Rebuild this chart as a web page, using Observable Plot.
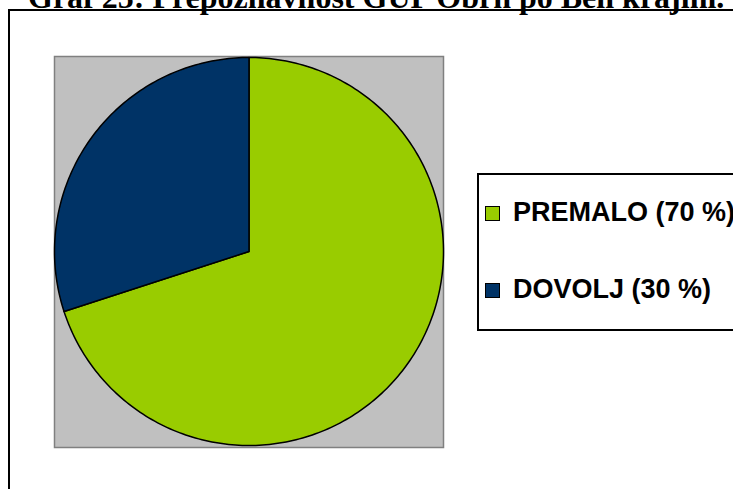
<!DOCTYPE html>
<html>
<head>
<meta charset="utf-8">
<script src="https://cdn.jsdelivr.net/npm/d3@7"></script>
<script src="https://cdn.jsdelivr.net/npm/@observablehq/plot@0.6"></script>
<style>
  html, body { margin: 0; padding: 0; background: #ffffff; }
  #page { position: relative; width: 733px; height: 489px; overflow: hidden; background: #ffffff; }
  #frame { position: absolute; left: 8px; top: 9px; width: 800px; height: 600px; border: 2px solid #000; box-sizing: border-box; }
  #title { position: absolute; left: 28px; top: -19px; white-space: nowrap; font-family: "Liberation Serif", "Times New Roman", serif; font-weight: bold; font-size: 32px; line-height: 32px; color: #000; }
  #chart { position: absolute; left: 0; top: 0; }
  #legend { position: absolute; left: 477px; top: 173px; width: 400px; height: 158px; border: 2px solid #000; box-sizing: border-box; }
  .item { position: absolute; white-space: nowrap; font-family: "Liberation Sans", Arial, sans-serif; font-weight: bold; font-size: 27px; line-height: 27px; color: #000; }
  .sw { position: absolute; width: 15px; height: 15px; border: 1px solid #000; box-sizing: border-box; }
</style>
</head>
<body>
<div id="page">
  <div id="frame"></div>
  <div id="chart"></div>
  <div id="title"></div>
  <div id="legend"></div>
</div>
<script>
const title = "Graf 25: Prepoznavnost GUP Obrh po Beli krajini.";
const categories = ["PREMALO", "DOVOLJ"];
const values = [70, 30];
const colors = ["#99CC00", "#003366"];
const legendLabels = ["PREMALO (70 %)", "DOVOLJ (30 %)"];

document.getElementById("title").textContent = title;

const data = categories.map((c, i) => ({name: c, value: values[i]}));
const arcs = d3.pie().sort(null).value(d => d.value)(data);

// polygon points per slice, unit circle, angle 0 at 12 o'clock, clockwise
const points = [];
arcs.forEach(a => {
  const name = a.data.name;
  points.push({name, x: 0, y: 0});
  const n = Math.max(2, Math.ceil((a.endAngle - a.startAngle) / (Math.PI * 2) * 360));
  for (let k = 0; k <= n; k++) {
    const t = a.startAngle + (a.endAngle - a.startAngle) * k / n;
    points.push({name, x: Math.sin(t), y: Math.cos(t)});
  }
});

const chart = Plot.plot({
  width: 733,
  height: 489,
  marginLeft: 54,
  marginRight: 290,
  marginTop: 57,
  marginBottom: 44,
  style: {background: "none", overflow: "visible"},
  x: {domain: [-1, 1], axis: null},
  y: {domain: [-1, 1], axis: null},
  color: {domain: categories, range: colors},
  marks: [
    Plot.frame({fill: "#c0c0c0", stroke: "#808080", strokeWidth: 1.5, insetTop: -1, insetBottom: -2}),
    Plot.line(points, {x: "x", y: "y", z: "name", fill: "name", stroke: "#000", strokeWidth: 1.5, curve: "linear-closed", strokeLinejoin: "round"})
  ]
});
document.getElementById("chart").appendChild(chart);

// legend
const legend = document.getElementById("legend");
const itemTops = [199, 276];
categories.forEach((c, i) => {
  const sw = document.createElement("div");
  sw.className = "sw";
  sw.style.background = colors[i];
  sw.style.left = (485 - 477 - 2) + "px";
  sw.style.top = (itemTops[i] + 7 - 173 - 2) + "px";
  legend.appendChild(sw);
  const t = document.createElement("div");
  t.className = "item";
  t.textContent = legendLabels[i];
  t.style.left = (513 - 477 - 2) + "px";
  t.style.top = (itemTops[i] - 173 - 2) + "px";
  legend.appendChild(t);
});
</script>
</body>
</html>
